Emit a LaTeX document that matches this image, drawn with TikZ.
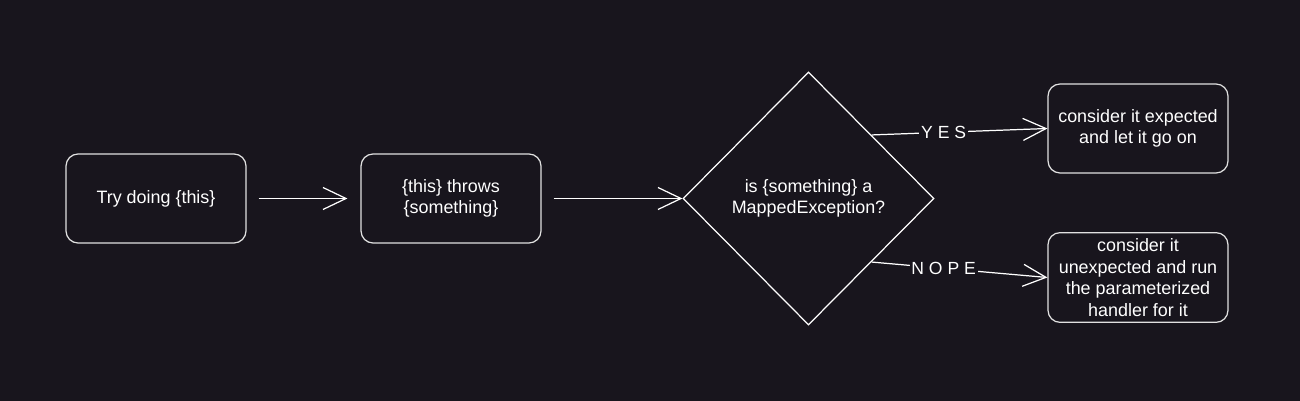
\documentclass[tikz,border=0pt]{standalone}
\usepackage{fontspec}
\setmainfont{Liberation Sans}
\usetikzlibrary{shapes.geometric,arrows.meta}
\definecolor{bgdark}{RGB}{24,21,29}
\definecolor{edgegray}{RGB}{225,225,225}
\tikzset{
  flowbox/.style={draw=edgegray, line width=0.7pt, rounded corners=0.24cm,
    minimum width=3.6cm, minimum height=1.78cm, align=center, text=white,
    font=\fontsize{10.2}{12.3}\selectfont},
  decision/.style={diamond, draw=white, line width=0.7pt, inner sep=0pt,
    minimum width=5.02cm, minimum height=5.06cm, align=center, text=white,
    font=\fontsize{10.2}{12.3}\selectfont},
  flow/.style={draw=white, line width=0.7pt, -{Straight Barb[length=0.46cm, width=0.44cm]}},
  answer/.style={fill=bgdark, text=white, inner sep=1pt, font=\fontsize{10}{12}\selectfont}
}
\begin{document}
\begin{tikzpicture}[x=0.02cm, y=-0.02cm]
    \fill[bgdark] (0,0) rectangle (1300,401);
    \node[flowbox] (try) at (156,198.5) {Try doing \{this\}};
    \node[flowbox] (throws) at (451,198.5) {\{this\} throws\\\{something\}};
    \node[decision] (mapped) at (808.5,198.5) {is \{something\} a\\MappedException?};
    \node[flowbox] (expected) at (1138,128.5) {consider it expected\\and let it go on};
    \node[flowbox] (unexpected) at (1138,277.5) {consider it\\unexpected and run\\the parameterized\\handler for it};
    \draw[flow, shorten <=0.24cm, shorten >=0.26cm] (try) -- (throws);
    \draw[flow, shorten <=0.24cm] (throws) -- (mapped);
    \draw[flow] (mapped.north east) -- (expected.west) node[answer, pos=0.41]{Y E S};
    \draw[flow] (mapped.south east) -- (unexpected.west) node[answer, pos=0.41]{N O P E};
\end{tikzpicture}
\end{document}
